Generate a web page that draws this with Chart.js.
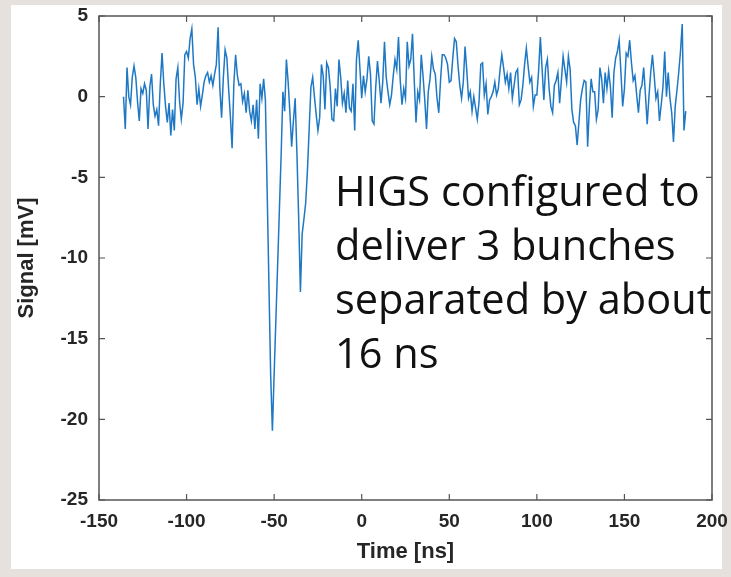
<!DOCTYPE html>
<html>
<head>
<meta charset="utf-8">
<script src="https://cdn.jsdelivr.net/npm/chart.js@4.4.1/dist/chart.umd.min.js"></script>
<style>
  html, body { margin: 0; padding: 0; width: 731px; height: 577px; overflow: hidden; background: #e7e1de; }
  #panel { position: absolute; left: 11px; top: 5px; width: 711px; height: 564px; background: #ffffff; }
  #myChart { position: absolute; left: 0; top: 0; }
  #note { position: absolute; left: 335px; top: 163px; font-family: 'Open Sans', sans-serif; font-size: 41.5px; line-height: 54px; color: #111; white-space: nowrap; }
</style>
</head>
<body>
<div id="panel"></div>
<canvas id="myChart" width="731" height="577"></canvas>
<div id="note"></div>
<script>
// scope trace, 1 ns per sample, starting at -136 ns
const timeStartNs = -136;
const timeStepNs = 1;
const signalMv = [
  0.0, -2.0, 1.8, 0.0, -0.5, 1.2, 1.9, 1.2, -0.3, -1.5,        // -136
  0.5, 0.2, 0.8, 0.4, -2.0, 0.6, 1.4, -0.5, -1.2, -0.8,         // -126
  -1.8, 0.8, 2.7, 0.8, -0.6, -1.6, -0.4, -2.4, -0.8, -2.1,      // -116
  1.1, 1.8, -0.3, -1.4, -0.4, 2.6, 2.8, 2.4, 3.6, 4.2,          // -106
  2.0, 1.2, -0.5, 0.5, -0.6, 0.1, 0.9, 1.3, 1.5, 0.9,           // -96
  1.3, 0.7, 1.4, 2.0, 4.3, 0.5, -1.3, 1.2, 2.9, 2.4,            // -86
  0.5, -1.2, -3.2, 0.8, 2.6, 1.3, 0.7, 0.8, -0.3, 0.2,          // -76
  -1.0, 0.4, -0.9, -1.5, -0.5, -2.0, -0.2, -2.6, 0.8, -0.1,     // -66
  1.1, -0.2, -5.8, -11.5, -17.2, -20.7, -17.2, -13.8, -10.4, -7.0, // -56
  -3.6, 0.3, -0.9, 2.3, 0.9, -1.0, -3.1, -1.5, -0.1, -3.5,      // -46
  -7.5, -12.1, -8.5, -7.6, -6.6, -4.6, -2.0, 0.6, 1.2, 0.0,     // -36
  -1.1, -2.1, -1.3, 2.0, 1.3, -0.8, 2.1, 1.8, 0.6, -1.4,        // -26
  -1.5, 0.5, -0.6, 2.3, 1.2, -0.4, 0.2, -1.0, 1.0, -0.7,        // -16
  -0.9, 0.8, -2.1, 2.3, 3.5, 1.7, -0.1, 1.3, 0.3, 1.1,          // -6
  2.5, 1.4, -1.5, -1.7, 0.6, 2.2, 1.0, -0.4, 0.9, 3.4,          // 4
  1.2, 0.3, -0.5, 0.1, 1.3, 2.3, 1.7, 3.7, 1.0, -0.5,           // 14
  0.5, -0.1, 3.4, 1.9, 2.3, 3.9, 1.0, -1.6, 0.3, -0.2,          // 24
  2.6, 1.3, -0.2, -2.0, 0.3, 1.1, 2.5, 1.7, 1.4, -0.1,          // 34
  -1.0, 1.0, 2.6, 2.6, 2.4, 2.0, 0.9, 1.0, 2.4, 3.6,            // 44
  3.4, 1.9, 0.7, -0.1, 0.9, 3.1, 1.6, -0.1, 0.3, -0.9,          // 54
  0.0, -0.7, -1.4, -0.3, 2.0, 2.1, 0.1, 0.8, -1.1, -0.2,        // 64
  0.0, 0.3, 0.9, 0.1, 0.5, 1.7, 2.6, 1.8, 0.9, 1.4,             // 74
  0.5, 1.5, -0.1, 0.7, 1.5, 1.7, -0.5, -0.2, 0.7, 2.0,          // 84
  3.0, 1.9, 0.9, 1.2, -0.6, 0.1, 0.1, 1.6, 3.7, 1.7,            // 94
  -0.2, 1.8, 2.3, 0.5, -0.6, -1.0, 0.7, 1.0, 1.5, -0.4,         // 104
  1.0, 2.5, 1.7, 0.9, 2.5, 1.7, -0.8, -1.6, -1.8, -3.0,         // 114
  -1.6, -0.2, 0.5, 1.0, 0.9, -3.1, -0.6, 1.1, 0.3, 0.3,         // 124
  -1.4, -0.8, 1.8, 1.1, -0.4, 1.5, 0.5, 1.6, 0.6, -1.3,         // 134
  1.5, 2.4, 2.8, 3.5, 1.5, -0.6, 0.5, 2.7, 2.5, 3.5,            // 144
  2.1, 1.0, 1.3, 0.1, -1.0, 0.4, 0.7, 1.8, 0.1, -1.7,           // 154
  0.0, 1.5, 2.6, 1.3, -0.1, 0.3, -1.5, -0.5, 0.6, 2.8,          // 164
  0.0, 1.5, -0.1, -1.0, -2.8, -0.6, 0.4, 1.5, 2.8, 4.5,         // 174
  -2.1, -0.9                                                    // 184
];
const xTicks = [-150, -100, -50, 0, 50, 100, 150, 200];
const yTicks = [-25, -20, -15, -10, -5, 0, 5];
const xTitle = 'Time [ns]';
const yTitle = 'Signal [mV]';
const noteLines = ['HIGS configured to', 'deliver 3 bunches', 'separated by about', '16 ns'];

document.getElementById('note').innerHTML = noteLines.join('<br>');

const points = signalMv.map((v, i) => ({ x: timeStartNs + i * timeStepNs, y: v }));

const tickFont = { family: "'Liberation Sans', Arial, sans-serif", size: 19, weight: 'bold' };
const titleFont = { family: "'Liberation Sans', Arial, sans-serif", size: 22, weight: 'bold' };

// matlab style box with inward ticks on all four sides
const boxPlugin = {
  id: 'box',
  afterDraw(chart) {
    const { ctx, chartArea: a, scales } = chart;
    ctx.save();
    ctx.strokeStyle = '#555';
    ctx.lineWidth = 1.5;
    ctx.strokeRect(a.left, a.top, a.right - a.left, a.bottom - a.top);
    ctx.lineWidth = 1.2;
    ctx.beginPath();
    xTicks.forEach(t => {
      const px = scales.x.getPixelForValue(t);
      ctx.moveTo(px, a.bottom); ctx.lineTo(px, a.bottom - 6);
      ctx.moveTo(px, a.top); ctx.lineTo(px, a.top + 6);
    });
    yTicks.forEach(t => {
      const py = scales.y.getPixelForValue(t);
      ctx.moveTo(a.left, py); ctx.lineTo(a.left + 6, py);
      ctx.moveTo(a.right, py); ctx.lineTo(a.right - 6, py);
    });
    ctx.stroke();
    ctx.restore();
  }
};

const config = {
  type: 'line',
  data: {
    datasets: [{
      data: points,
      borderColor: '#1f78c4',
      borderWidth: 1.5,
      pointRadius: 0,
      tension: 0,
      fill: false
    }]
  },
  options: {
    responsive: false,
    animation: false,
    layout: { padding: { left: 0, right: 19, top: 16, bottom: 0 } },
    plugins: { legend: { display: false }, tooltip: { enabled: false } },
    scales: {
      x: {
        type: 'linear', min: -150, max: 200,
        afterBuildTicks: s => { s.ticks = xTicks.map(v => ({ value: v })); },
        afterFit: s => { s.height = 77; s.paddingLeft = 0; s.paddingRight = 0; },
        grid: { display: false, drawTicks: false },
        border: { display: false },
        ticks: { font: tickFont, color: '#262626', padding: 10, maxRotation: 0 },
        title: { display: true, text: xTitle, font: titleFont, color: '#262626', padding: { top: 0, bottom: 12 } }
      },
      y: {
        type: 'linear', min: -25, max: 5,
        afterBuildTicks: s => { s.ticks = yTicks.map(v => ({ value: v })); },
        afterFit: s => { s.width = 99; s.paddingTop = 0; s.paddingBottom = 0; },
        grid: { display: false, drawTicks: false },
        border: { display: false },
        ticks: { font: tickFont, color: '#262626', padding: 11 },
        title: { display: true, text: yTitle, font: titleFont, color: '#262626', padding: { top: 14, bottom: 0 } }
      }
    }
  },
  plugins: [boxPlugin]
};

const myChart = new Chart(document.getElementById('myChart'), config);
</script>
</body>
</html>
